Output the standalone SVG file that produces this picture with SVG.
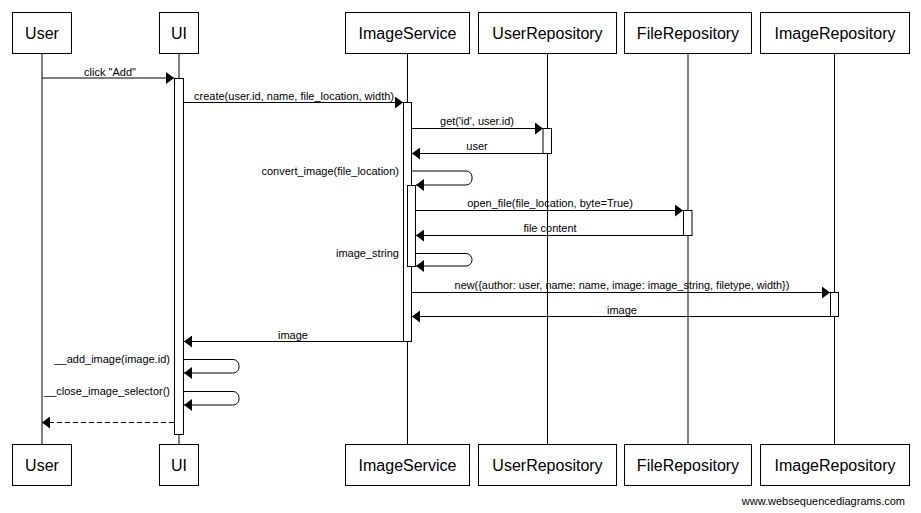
<svg xmlns="http://www.w3.org/2000/svg" width="921" height="513" viewBox="0 0 921 513">
<style>
.box{fill:#fff;stroke:#000;stroke-width:1}
.act{fill:#fff;stroke:#000;stroke-width:1}
.life{stroke:#000;stroke-width:1}
.msg{stroke:#000;stroke-width:1;fill:none}
.dash{stroke-dasharray:5,3}
.title{font-family:"Liberation Sans",Arial,sans-serif;font-size:16px;text-anchor:middle;fill:#000}
.lbl{font-family:"Liberation Sans",Arial,sans-serif;font-size:11px;text-anchor:middle;fill:#000}
.lblr{font-family:"Liberation Sans",Arial,sans-serif;font-size:11px;text-anchor:end;fill:#000}
</style>
<defs>
<marker id="ah" markerUnits="userSpaceOnUse" markerWidth="9" markerHeight="12" refX="8" refY="6" orient="auto" viewBox="0 0 9 12">
<path d="M0,0 L8,6 L0,12 z" fill="#000"/>
</marker>
</defs>
<rect width="921" height="513" fill="#fff"/>
<g id="lifelines">
<line class="life" x1="42" y1="53" x2="42" y2="444"/>
<line class="life" x1="179" y1="53" x2="179" y2="444"/>
<line class="life" x1="407.5" y1="53" x2="407.5" y2="444"/>
<line class="life" x1="547.5" y1="53" x2="547.5" y2="444"/>
<line class="life" x1="688" y1="53" x2="688" y2="444"/>
<line class="life" x1="834.5" y1="53" x2="834.5" y2="444"/>
</g>
<g id="node-User">
<rect class="box" x="12.5" y="12.5" width="59" height="41"/>
<text class="title" x="42" y="38.5">User</text>
<rect class="box" x="12.5" y="444.5" width="59" height="41"/>
<text class="title" x="42" y="470.5">User</text>
</g>
<g id="node-UI">
<rect class="box" x="159.5" y="12.5" width="39" height="41"/>
<text class="title" x="179" y="38.5">UI</text>
<rect class="box" x="159.5" y="444.5" width="39" height="41"/>
<text class="title" x="179" y="470.5">UI</text>
</g>
<g id="node-ImageService">
<rect class="box" x="345.5" y="12.5" width="124" height="41"/>
<text class="title" x="407.5" y="38.5">ImageService</text>
<rect class="box" x="345.5" y="444.5" width="124" height="41"/>
<text class="title" x="407.5" y="470.5">ImageService</text>
</g>
<g id="node-UserRepository">
<rect class="box" x="478.5" y="12.5" width="138" height="41"/>
<text class="title" x="547.5" y="38.5">UserRepository</text>
<rect class="box" x="478.5" y="444.5" width="138" height="41"/>
<text class="title" x="547.5" y="470.5">UserRepository</text>
</g>
<g id="node-FileRepository">
<rect class="box" x="624.5" y="12.5" width="127" height="41"/>
<text class="title" x="688" y="38.5">FileRepository</text>
<rect class="box" x="624.5" y="444.5" width="127" height="41"/>
<text class="title" x="688" y="470.5">FileRepository</text>
</g>
<g id="node-ImageRepository">
<rect class="box" x="760.5" y="12.5" width="149" height="41"/>
<text class="title" x="835" y="38.5">ImageRepository</text>
<rect class="box" x="760.5" y="444.5" width="149" height="41"/>
<text class="title" x="835" y="470.5">ImageRepository</text>
</g>
<g id="activations">
<rect class="act" x="174.5" y="78.5" width="9" height="356"/>
<rect class="act" x="403.5" y="102.5" width="8" height="239"/>
<rect class="act" x="543" y="128.5" width="8.5" height="25"/>
<rect class="act" x="407.5" y="185.5" width="8" height="81"/>
<rect class="act" x="683.5" y="210.5" width="8.5" height="25"/>
<rect class="act" x="830.5" y="292.5" width="8" height="24"/>
</g>
<g id="connectors">
<line class="msg" x1="42" y1="78" x2="174" y2="78" marker-end="url(#ah)"/>
<text class="lbl" x="110" y="75.5">click "Add"</text>
<line class="msg" x1="184" y1="102.5" x2="403" y2="102.5" marker-end="url(#ah)"/>
<text class="lbl" x="294" y="99.5">create(user.id, name, file_location, width)</text>
<line class="msg" x1="412" y1="128.5" x2="543" y2="128.5" marker-end="url(#ah)"/>
<text class="lbl" x="477" y="125">get('id', user.id)</text>
<line class="msg" x1="543" y1="153.5" x2="412" y2="153.5" marker-end="url(#ah)"/>
<text class="lbl" x="477" y="150">user</text>
<path class="msg" d="M412,171 H466 A6,6 0 0 1 472,177 V179 A6,6 0 0 1 466,185 H416" marker-end="url(#ah)"/>
<text class="lblr" x="399" y="175">convert_image(file_location)</text>
<line class="msg" x1="416" y1="210.5" x2="683" y2="210.5" marker-end="url(#ah)"/>
<text class="lbl" x="550" y="207">open_file(file_location, byte=True)</text>
<line class="msg" x1="683" y1="235.5" x2="416" y2="235.5" marker-end="url(#ah)"/>
<text class="lbl" x="550" y="232">file content</text>
<path class="msg" d="M416,253.5 H466 A6,6 0 0 1 472,259.5 V260 A6,6 0 0 1 466,266 H416" marker-end="url(#ah)"/>
<text class="lblr" x="399" y="256.5">image_string</text>
<line class="msg" x1="412" y1="292.5" x2="830" y2="292.5" marker-end="url(#ah)"/>
<text class="lbl" x="622" y="289" style="font-size:10.9px">new({author: user, name: name, image: image_string, filetype, width})</text>
<line class="msg" x1="830" y1="316.5" x2="412" y2="316.5" marker-end="url(#ah)"/>
<text class="lbl" x="622" y="313.5">image</text>
<line class="msg" x1="403" y1="341.5" x2="184" y2="341.5" marker-end="url(#ah)"/>
<text class="lbl" x="293" y="338.5">image</text>
<path class="msg" d="M184,359.5 H233 A6,6 0 0 1 239,365.5 V367 A6,6 0 0 1 233,373 H184" marker-end="url(#ah)"/>
<text class="lblr" x="170" y="363">__add_image(image.id)</text>
<path class="msg" d="M184,391.5 H233 A6,6 0 0 1 239,397.5 V399 A6,6 0 0 1 233,405 H184" marker-end="url(#ah)"/>
<text class="lblr" x="170" y="395">__close_image_selector()</text>
<line class="msg dash" x1="174" y1="422.5" x2="42" y2="422.5" marker-end="url(#ah)"/>
</g>
<text class="lblr" x="905" y="505">www.websequencediagrams.com</text>
</svg>
